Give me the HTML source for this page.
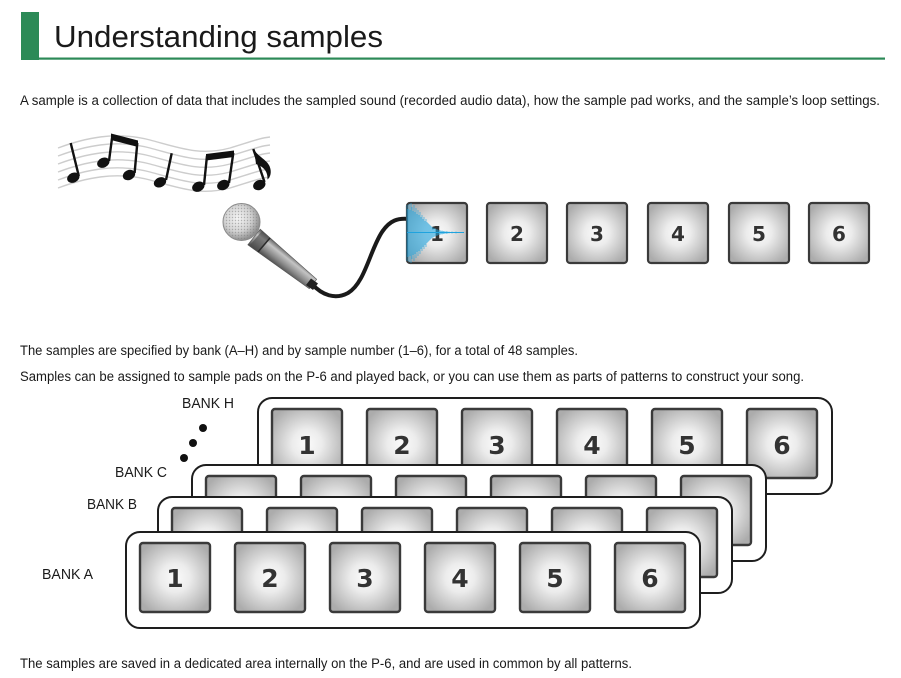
<!DOCTYPE html>
<html><head><meta charset="utf-8"><style>
html,body{margin:0;padding:0;background:#fff;}
svg{display:block;}
</style></head><body>
<svg width="901" height="678" viewBox="0 0 901 678" xmlns="http://www.w3.org/2000/svg">
<defs>
<radialGradient id="pg" cx="0.5" cy="0.5" r="0.6">
<stop offset="0" stop-color="#fbfbfb"/>
<stop offset="0.35" stop-color="#ececec"/>
<stop offset="1" stop-color="#acacac"/>
</radialGradient>
<radialGradient id="mh" cx="0.4" cy="0.4" r="0.6">
<stop offset="0" stop-color="#f4f4f4"/>
<stop offset="0.6" stop-color="#d2d2d2"/>
<stop offset="1" stop-color="#909090"/>
</radialGradient>
<pattern id="mesh" width="3" height="3" patternUnits="userSpaceOnUse">
<circle cx="1.5" cy="1.5" r="0.7" fill="#7a7a7a"/>
</pattern>
<linearGradient id="mb" gradientUnits="userSpaceOnUse" x1="260.2" y1="229.15" x2="247.8" y2="244.85">
<stop offset="0" stop-color="#555"/>
<stop offset="0.3" stop-color="#c4c4c4"/>
<stop offset="0.65" stop-color="#8a8a8a"/>
<stop offset="1" stop-color="#444"/>
</linearGradient>
<g id="tp"><rect x="0" y="0" width="60" height="60" rx="3" fill="url(#pg)" stroke="#3a3a3a" stroke-width="2.2"/></g>
<g id="bp"><rect x="0" y="0" width="70" height="69" rx="3" fill="url(#pg)" stroke="#3a3a3a" stroke-width="2.4"/></g>
<g id="panel">
<rect x="0" y="0" width="574" height="96" rx="14" fill="#fff" stroke="#1e1e1e" stroke-width="2"/>
<use href="#bp" x="14" y="11"/><use href="#bp" x="109" y="11"/><use href="#bp" x="204" y="11"/>
<use href="#bp" x="299" y="11"/><use href="#bp" x="394" y="11"/><use href="#bp" x="489" y="11"/>
</g>
</defs>

<!-- Header -->
<rect x="21" y="12" width="18" height="48" fill="#2c8a57"/>
<rect x="21" y="57.5" width="864" height="2.2" fill="#2c8a57"/>
<text x="54" y="47" font-family="Liberation Sans, sans-serif" font-size="31" fill="#1a1a1a" textLength="329" lengthAdjust="spacingAndGlyphs">Understanding samples</text>

<text x="20" y="105" font-family="Liberation Sans, sans-serif" font-size="13.5" fill="#1a1a1a" textLength="860" lengthAdjust="spacingAndGlyphs">A sample is a collection of data that includes the sampled sound (recorded audio data), how the sample pad works, and the sample’s loop settings.</text>

<!-- Staff lines -->
<g fill="none" stroke="#cdcdcd" stroke-width="1.4">
<path id="sl" d="M58,148 C85,138 115,131 150,140 C180,148 200,156 230,148 C250,142 260,138 270,137"/>
<use href="#sl" y="8"/><use href="#sl" y="16"/><use href="#sl" y="24"/><use href="#sl" y="32"/><use href="#sl" y="40"/>
</g>

<!-- Notes -->
<g fill="#111" stroke="none">
<ellipse cx="73.3" cy="177.7" rx="6.4" ry="4.9" transform="rotate(-25 73.3 177.7)"/>
<ellipse cx="103.3" cy="162.7" rx="6.4" ry="4.9" transform="rotate(-25 103.3 162.7)"/>
<ellipse cx="129" cy="175" rx="6.4" ry="4.9" transform="rotate(-25 129 175)"/>
<ellipse cx="160" cy="182.3" rx="6.4" ry="4.9" transform="rotate(-25 160 182.3)"/>
<ellipse cx="198.3" cy="186.7" rx="6.4" ry="4.9" transform="rotate(-25 198.3 186.7)"/>
<ellipse cx="223.3" cy="185" rx="6.4" ry="4.9" transform="rotate(-25 223.3 185)"/>
<ellipse cx="259.3" cy="185" rx="6.4" ry="4.9" transform="rotate(-25 259.3 185)"/>
<polygon points="111,133.5 138,140.5 138,147 111,140"/>
<polygon points="206,154 234,150.5 234,157 206,160.5"/>
<path d="M254,149 C257,156 266,159 269.5,166 C272,172 270.5,177 267.5,179.5 C268,171 263,166.5 256,164 Z"/>
</g>
<g stroke="#111" stroke-width="2.4" fill="none">
<line x1="70.7" y1="143" x2="78.8" y2="176"/>
<line x1="112.3" y1="136" x2="109" y2="161"/>
<line x1="137.3" y1="143" x2="134.6" y2="173"/>
<line x1="171.7" y1="153.3" x2="166" y2="180"/>
<line x1="207" y1="155.7" x2="204" y2="185"/>
<line x1="233.3" y1="153" x2="229" y2="183"/>
<line x1="253.3" y1="149" x2="264.5" y2="182"/>
</g>

<!-- Cable -->
<path d="M312,284 C322,295 335,300 348,293 C365,283 370,250 382,232 C390,220 398,218 409,219" fill="none" stroke="#1a1a1a" stroke-width="4"/>

<!-- Microphone -->
<polygon points="260.2,229.15 316.7,279.3 309.3,288.7 247.8,244.85" fill="url(#mb)" stroke="#555" stroke-width="0.6"/>
<polygon points="262,231 270,238 258,252 250,245" fill="#4a4a4a" opacity="0.6"/>
<line x1="270" y1="238" x2="258" y2="252" stroke="#2a2a2a" stroke-width="1.5"/>
<polygon points="311,278.5 318,283.5 313,290 306,285" fill="#222"/>
<ellipse cx="241.5" cy="222" rx="18.5" ry="18.5" fill="url(#mh)" stroke="#8a8a8a" stroke-width="1"/>
<ellipse cx="241.5" cy="222" rx="17.5" ry="17.5" fill="url(#mesh)" opacity="0.5"/>

<!-- Top pads -->
<use href="#tp" x="407" y="203"/>
<use href="#tp" x="487" y="203"/>
<use href="#tp" x="567" y="203"/>
<use href="#tp" x="648" y="203"/>
<use href="#tp" x="729" y="203"/>
<use href="#tp" x="809" y="203"/>
<g font-family="DejaVu Sans, sans-serif" font-weight="bold" font-size="20" fill="#333" text-anchor="middle">
<text x="437" y="241">1</text>
<text x="517" y="241">2</text>
<text x="597" y="241">3</text>
<text x="678" y="241">4</text>
<text x="759" y="241">5</text>
<text x="839" y="241">6</text>
</g>

<!-- Waveform -->
<path fill="none" stroke="#1fa3de" stroke-width="0.6" d="
M407,205 V261 M408,209 V257 M409,204 V262 M410,210 V256 M411,203 V263 M412,207 V259 M413,211 V255 M414,205 V261
M415,212 V254 M416,208 V258 M417,214 V252 M418,210 V256 M419,215 V251 M420,212 V254 M421,217 V249 M422,215 V251
M423,219 V247 M424,217 V249 M425,221 V245 M426,219 V247 M427,222 V243 M428,223 V242 M429,224 V241 M430,225 V240
M431,226 V239 M432,227 V238 M433,227.5 V237.5 M434,228 V237 M435,228.5 V236.5 M436,229.5 V235.5 M437,229 V236 M438,230 V235
M439,230.5 V234.5 M440,230 V235 M441,231 V234 M442,230.5 V234.5 M443,231 V234 M444,231 V234 M445,231.5 V233.5
M446,231.5 V233.5 M447,231 V234 M448,232 V233 M449,231.5 V233.5 M450,232 V233 M452,231.5 V233.5 M454,232 V233
M456,231.5 V233.5 M458,232 V233 M460,232 V233 M462,232 V233"/>
<path fill="none" stroke="#1fa3de" stroke-width="1" d="M407,232.5 H464"/>

<text x="20" y="355" font-family="Liberation Sans, sans-serif" font-size="13.5" fill="#1a1a1a" textLength="558" lengthAdjust="spacingAndGlyphs">The samples are specified by bank (A–H) and by sample number (1–6), for a total of 48 samples.</text>
<text x="20" y="381" font-family="Liberation Sans, sans-serif" font-size="13.5" fill="#1a1a1a" textLength="784" lengthAdjust="spacingAndGlyphs">Samples can be assigned to sample pads on the P-6 and played back, or you can use them as parts of patterns to construct your song.</text>

<!-- Banks -->
<g font-family="Liberation Sans, sans-serif" font-size="14.5" fill="#1a1a1a">
<text x="182" y="408" textLength="52" lengthAdjust="spacingAndGlyphs">BANK H</text>
<text x="115" y="477" textLength="52" lengthAdjust="spacingAndGlyphs">BANK C</text>
<text x="87" y="509" textLength="50" lengthAdjust="spacingAndGlyphs">BANK B</text>
<text x="42" y="579" textLength="51" lengthAdjust="spacingAndGlyphs">BANK A</text>
</g>
<circle cx="203" cy="428" r="4" fill="#111"/>
<circle cx="193" cy="443" r="4" fill="#111"/>
<circle cx="184" cy="458" r="4" fill="#111"/>

<use href="#panel" x="258" y="398"/>
<g font-family="DejaVu Sans, sans-serif" font-weight="bold" font-size="25" fill="#333" text-anchor="middle">
<text x="307" y="454">1</text>
<text x="402" y="454">2</text>
<text x="497" y="454">3</text>
<text x="592" y="454">4</text>
<text x="687" y="454">5</text>
<text x="782" y="454">6</text>
</g>
<use href="#panel" x="192" y="465"/>
<use href="#panel" x="158" y="497"/>
<use href="#panel" x="126" y="532"/>
<g font-family="DejaVu Sans, sans-serif" font-weight="bold" font-size="25" fill="#333" text-anchor="middle">
<text x="175" y="587">1</text>
<text x="270" y="587">2</text>
<text x="365" y="587">3</text>
<text x="460" y="587">4</text>
<text x="555" y="587">5</text>
<text x="650" y="587">6</text>
</g>

<text x="20" y="668" font-family="Liberation Sans, sans-serif" font-size="13.5" fill="#1a1a1a" textLength="612" lengthAdjust="spacingAndGlyphs">The samples are saved in a dedicated area internally on the P-6, and are used in common by all patterns.</text>
</svg>
</body></html>
